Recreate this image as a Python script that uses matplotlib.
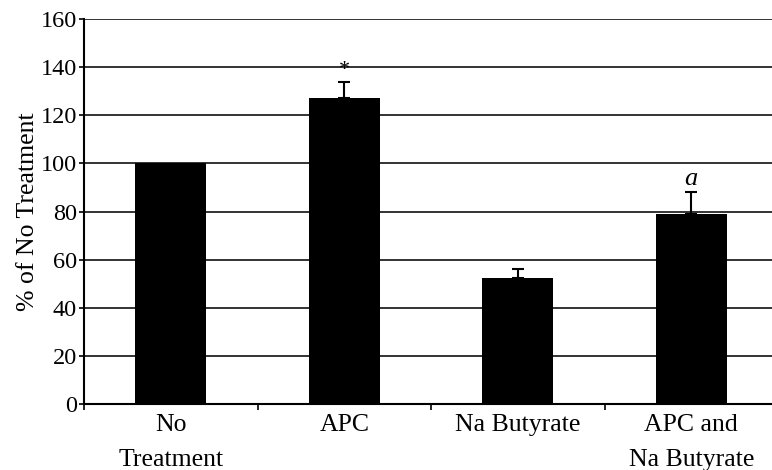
import matplotlib
matplotlib.use("Agg")
import matplotlib.pyplot as plt
import numpy as np

categories = ["No\nTreatment", "APC", "Na Butyrate", "APC and\nNa Butyrate"]
values = [100, 127, 52.5, 79]
errors = [0, 7, 3.5, 9]
annotations = ["", "*", "", "a"]
yticks = [0, 20, 40, 60, 80, 100, 120, 140, 160]

plt.rcParams["font.family"] = ["Liberation Serif", "DejaVu Serif"]

fig = plt.figure(figsize=(7.72, 4.70), dpi=100)
ax = fig.add_axes([84 / 772, 66 / 470, (778 - 84) / 772, 385 / 470])

x = np.arange(len(categories)) + 0.5
ax.bar(x, values, width=0.41, color="black", zorder=3)

for xi, v, e, note in zip(x, values, errors, annotations):
    if e > 0:
        ax.errorbar(xi, v, yerr=[[0], [e]], fmt="none", ecolor="black",
                    elinewidth=1.5, capsize=4, capthick=1.5, zorder=4)
    if note == "*":
        ax.text(xi, v + e + 0.5, note, ha="center", va="bottom", fontsize=16)
    elif note:
        ax.text(xi, v + e + 1.0, note, ha="center", va="bottom", fontsize=19,
                style="italic")

ax.set_xlim(0, 4)
ax.set_ylim(0, 160)
ax.set_yticks(yticks)
ax.set_yticklabels([str(t) for t in yticks], fontsize=17.5)
ax.yaxis.grid(True, color="#333333", linewidth=1.4, zorder=0)
ax.set_axisbelow(True)

ax.set_xticks([0, 1, 2, 3, 4])
ax.set_xticklabels([])
ax.set_xticks(x, minor=True)
ax.set_xticklabels(categories, minor=True, fontsize=18.5, linespacing=1.72,
                   va="top")
ax.tick_params(axis="x", which="minor", length=0, pad=7.5)
ax.tick_params(axis="x", which="major", direction="out", length=4, width=1.2)
ax.tick_params(axis="y", direction="out", length=3.5, width=1.2, pad=1.5)

for side in ("top", "right"):
    ax.spines[side].set_visible(False)
for side in ("left", "bottom"):
    ax.spines[side].set_linewidth(1.5)

ax.set_ylabel("% of No Treatment", fontsize=18.5, labelpad=1)

fig.savefig("out.png", dpi=100)
